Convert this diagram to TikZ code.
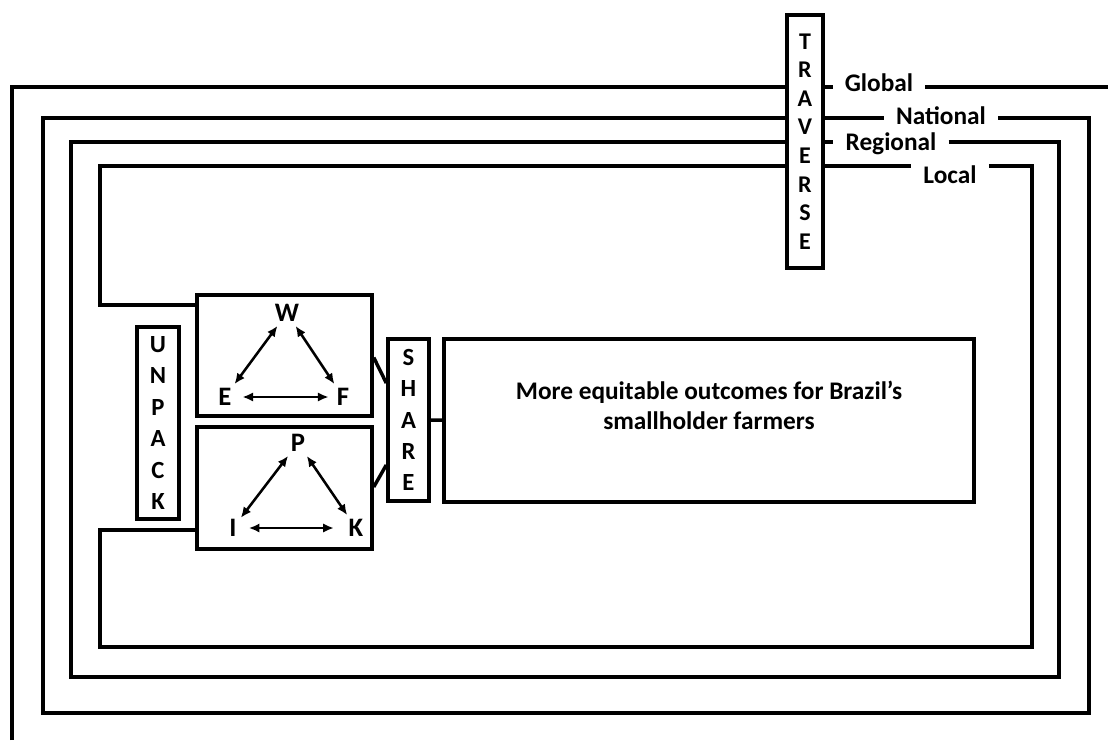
\documentclass[tikz,border=0pt]{standalone}
\usepackage{fontspec}
\setmainfont{Carlito}
\usepackage{tikz}
\usetikzlibrary{arrows.meta,positioning,calc}

\begin{document}
\begin{tikzpicture}[x=0.75pt, y=-0.75pt,
    ring/.style={line width=2.6pt},
    wordbox/.style={rectangle, draw=black, line width=2.6pt, fill=white, align=center, inner sep=0pt, font=\fontsize{18.5}{23.6}\selectfont\bfseries},
    tribox/.style={rectangle, draw=black, line width=2.6pt, fill=white, minimum width=131.25pt},
    goalbox/.style={rectangle, draw=black, line width=2.6pt, minimum width=397.5pt, minimum height=122.25pt},
    scalelbl/.style={inner xsep=9pt, inner ysep=0pt, font=\fontsize{19}{22}\selectfont\bfseries},
    corner/.style={inner sep=3pt, font=\fontsize{20}{22}\selectfont\bfseries},
    dbl/.style={{Latex[length=8pt,width=7pt]}-{Latex[length=8pt,width=7pt]}, line width=1.9pt},
    link/.style={line width=2.6pt}
]
\useasboundingbox (0,0) rectangle (1108,740);

% rows of the four scales
\coordinate (gl) at (805,87);
\coordinate (na) at (805,118);
\coordinate (re) at (805,142);
\coordinate (lo) at (805,166);

\node[wordbox, minimum width=27pt, minimum height=189.75pt, font=\fontsize{18}{21.45}\selectfont\bfseries] (traverse) at (805,141.5) {T\\R\\A\\V\\E\\R\\S\\E};
\node[wordbox, minimum width=31.5pt, minimum height=144pt] (unpack) at (158,423) {U\\N\\P\\A\\C\\K};
\node[wordbox, minimum width=30.75pt, minimum height=121.5pt, font=\fontsize{18.5}{23.4}\selectfont\bfseries] (share) at (408.5,420) {S\\H\\A\\R\\E};
\node[tribox, minimum height=90.75pt] (wef) at (284.5,355.5) {};
\node[tribox, minimum height=91.5pt] (pik) at (284.5,488) {};
\node[goalbox] (goal) at (709,420.5) {};
\node[align=center, font=\fontsize{19}{22.5}\selectfont\bfseries] (goaltxt) at (709,405) {More equitable outcomes for Brazil's\\smallholder farmers};

\node[scalelbl] (glob) at (879,83) {Global};
\node[scalelbl] (nat) at (941,116) {National};
\node[scalelbl] (reg) at (891,144) {Regional};
\node[scalelbl] (loc) at (950,175) {Local};

% Global (open at the bottom left)
\draw[ring] (12,740) |- (traverse.west |- gl);
\draw[ring] (traverse.east |- gl) -- (glob.west |- gl);
\draw[ring] (glob.east |- gl) -- (1108,87);
% National
\draw[ring] (traverse.east |- na) -- (nat.west |- na);
\draw[ring] (nat.east |- na) -| (1089,713) -| (43,118) -- (traverse.west |- na);
% Regional
\draw[ring] (traverse.east |- re) -- (reg.west |- re);
\draw[ring] (reg.east |- re) -| (1059,677) -| (71,142) -- (traverse.west |- re);
% Local
\draw[ring] (traverse.east |- lo) -- (loc.west |- lo);
\draw[ring] (loc.east |- lo) -| (1032,647) -| (100,530) -- (pik.west |- 0,530);
\draw[ring] (wef.west |- 0,305) -| (100,166) -- (traverse.west |- lo);

% W-E-F
\node[corner] (w) at (287,313) {W};
\node[corner] (e) at (225,397) {E};
\node[corner] (f) at (343,397) {F};
\draw[dbl] (w) -- (e);
\draw[dbl] (w) -- (f);
\draw[dbl, shorten <=5pt, shorten >=3pt] (e) -- (f);

% P-I-K
\node[corner] (p) at (298,443) {P};
\node[corner] (i) at (233,528) {I};
\node[corner] (k) at (356,528) {K};
\draw[dbl] (p) -- (i);
\draw[dbl] (p) -- (k);
\draw[dbl, shorten <=6pt, shorten >=8pt] (i) -- (k);

% links to SHARE and the outcome
\draw[link] ($(wef.east)+(0,2)$) -- ($(share.west)+(0,-37)$);
\draw[link] ($(pik.east)+(0,-1)$) -- ($(share.west)+(0,45)$);
\draw[link] (share) -- (goal);
\end{tikzpicture}
\end{document}
